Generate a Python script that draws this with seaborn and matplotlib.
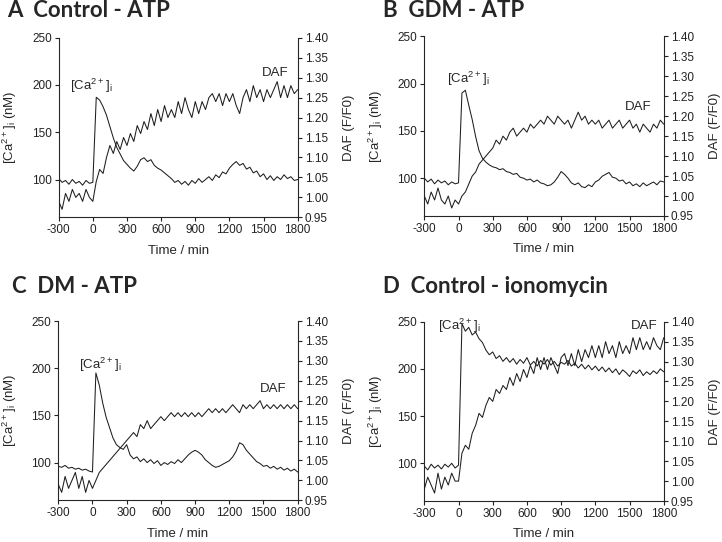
import numpy as np
import pandas as pd
import matplotlib.pyplot as plt
import seaborn as sns

# ---- data: time points (min) ----
time = list(range(-300, 1801, 30))

# A  Control - ATP
ca_A = [101, 97, 99, 95, 100, 96, 98, 94, 99, 96, 97,
        187, 184, 177, 168, 156, 144, 134, 127, 120, 116,
        112, 109, 114, 121, 123, 119, 121, 115, 112, 110,
        107, 104, 101, 97, 99, 95, 98, 94, 99, 96,
        101, 97, 100, 103, 99, 105, 102, 108, 106, 112,
        116, 119, 115, 117, 111, 113, 107, 109, 103, 106,
        100, 104, 99, 103, 100, 105, 101, 103, 99, 100]
daf_A = [0.99, 0.97, 1.01, 0.99, 1.02, 1.00, 1.01, 0.99, 1.02, 1.00, 0.99,
         1.04, 1.07, 1.06, 1.10, 1.13, 1.11, 1.14, 1.12, 1.15, 1.13,
         1.16, 1.14, 1.18, 1.16, 1.19, 1.17, 1.21, 1.18, 1.22, 1.19,
         1.23, 1.20, 1.22, 1.20, 1.24, 1.21, 1.25, 1.22, 1.20, 1.24,
         1.21, 1.24, 1.22, 1.25, 1.26, 1.24, 1.26, 1.23, 1.26, 1.24,
         1.26, 1.23, 1.21, 1.25, 1.27, 1.24, 1.28, 1.25, 1.27, 1.24,
         1.27, 1.25, 1.27, 1.29, 1.25, 1.28, 1.25, 1.28, 1.26, 1.27]

# B  GDM - ATP
ca_B = [100, 96, 99, 94, 98, 95, 97, 93, 96, 94, 95,
        190, 193, 177, 162, 144, 129, 121, 117, 114, 112,
        111, 109, 110, 107, 106, 104, 105, 101, 100, 98,
        99, 96, 98, 95, 94, 92, 93, 96, 101, 107,
        104, 100, 95, 93, 95, 91, 90, 93, 91, 96,
        98, 102, 104, 106, 101, 100, 97, 98, 94, 96,
        92, 94, 91, 95, 92, 94, 96, 93, 97, 96]
daf_B = [1.00, 0.98, 1.01, 0.99, 1.02, 0.99, 0.98, 1.00, 0.97, 0.99, 0.98,
         1.00, 1.01, 1.03, 1.05, 1.06, 1.08, 1.09, 1.10, 1.11, 1.12,
         1.14, 1.13, 1.15, 1.14, 1.16, 1.17, 1.15, 1.16, 1.17, 1.16,
         1.18, 1.17, 1.18, 1.19, 1.18, 1.20, 1.19, 1.18, 1.20, 1.19,
         1.18, 1.19, 1.17, 1.19, 1.21, 1.19, 1.20, 1.18, 1.19, 1.18,
         1.19, 1.17, 1.18, 1.19, 1.17, 1.18, 1.19, 1.17, 1.18, 1.19,
         1.17, 1.18, 1.16, 1.18, 1.17, 1.16, 1.18, 1.17, 1.19, 1.18]

# C  DM - ATP
ca_C = [96, 95, 97, 94, 95, 93, 94, 92, 93, 91, 90,
        195, 182, 163, 148, 137, 126, 119, 116, 114, 119,
        108, 104, 106, 101, 104, 100, 103, 99, 102, 97,
        100, 98, 101, 99, 103, 100, 104, 108, 111, 113,
        111, 108, 103, 100, 97, 95, 96, 98, 100, 102,
        106, 112, 121, 119, 113, 109, 105, 101, 99, 96,
        97, 94, 96, 93, 95, 92, 94, 91, 93, 90]
daf_C = [0.99, 0.97, 1.01, 0.98, 1.00, 1.02, 0.98, 1.01, 0.97, 1.00, 0.98,
         1.00, 1.02, 1.03, 1.04, 1.05, 1.06, 1.07, 1.08, 1.09, 1.10,
         1.11, 1.12, 1.11, 1.14, 1.13, 1.15, 1.13, 1.14, 1.15, 1.16,
         1.15, 1.16, 1.17, 1.16, 1.17, 1.16, 1.17, 1.16, 1.17, 1.16,
         1.17, 1.16, 1.17, 1.18, 1.17, 1.18, 1.17, 1.18, 1.17, 1.18,
         1.19, 1.18, 1.17, 1.19, 1.18, 1.19, 1.18, 1.19, 1.20, 1.18,
         1.19, 1.18, 1.19, 1.18, 1.19, 1.18, 1.19, 1.18, 1.19, 1.18]

# D  Control - ionomycin
ca_D = [97, 93, 99, 95, 98, 94, 99, 96, 100, 95, 98,
        248, 240, 244, 236, 239, 232, 228, 220, 215, 218,
        211, 214, 208, 212, 207, 211, 205, 210, 206, 212,
        204, 208, 203, 209, 205, 210, 204, 208, 203, 207,
        205, 209, 203, 206, 201, 205, 200, 204, 199, 203,
        198, 202, 197, 201, 196, 200, 194, 199, 196, 192,
        198, 195, 199, 193, 197, 194, 198, 195, 200, 197]
daf_D = [0.98, 1.01, 0.99, 0.97, 1.02, 0.98, 1.01, 0.99, 1.02, 1.00, 1.00,
         1.07, 1.09, 1.08, 1.12, 1.14, 1.17, 1.16, 1.19, 1.21, 1.20,
         1.23, 1.22, 1.24, 1.23, 1.26, 1.24, 1.27, 1.25, 1.28, 1.26,
         1.29, 1.27, 1.31, 1.28, 1.31, 1.28, 1.31, 1.29, 1.27, 1.31,
         1.32, 1.29, 1.32, 1.29, 1.33, 1.30, 1.33, 1.31, 1.34, 1.31,
         1.34, 1.31, 1.35, 1.32, 1.34, 1.31, 1.35, 1.32, 1.34, 1.32,
         1.36, 1.33, 1.36, 1.33, 1.35, 1.33, 1.36, 1.34, 1.33, 1.36]

titles = ["A  Control - ATP", "B  GDM - ATP", "C  DM - ATP", "D  Control - ionomycin"]
ca_all = [ca_A, ca_B, ca_C, ca_D]
daf_all = [daf_A, daf_B, daf_C, daf_D]
# label positions (time, nM) for the [Ca2+]i and DAF annotations
ca_lab = [(-10, 199), (86, 205), (66, 204), (7, 246)]
daf_lab = [(1600, 213), (1577, 175), (1581, 178), (1627, 246)]

# ---- style ----
sns.set_style("ticks")
plt.rcParams['font.family'] = ['Liberation Sans', 'DejaVu Sans']
plt.rcParams['mathtext.default'] = 'regular'
plt.rcParams['axes.unicode_minus'] = False
plt.rcParams['xtick.major.size'] = 3
plt.rcParams['ytick.major.size'] = 3
plt.rcParams['xtick.major.width'] = 0.8
plt.rcParams['ytick.major.width'] = 0.8

fig = plt.figure(figsize=(7.22, 5.42), dpi=100)

# axes boxes [left, bottom, width, height] in figure fractions
boxes = [[0.0813, 0.599, 0.331, 0.3314],
         [0.5877, 0.6015, 0.3316, 0.3315],
         [0.0807, 0.0769, 0.3316, 0.3308],
         [0.5877, 0.0756, 0.3316, 0.3308]]
title_pos = [(0.0097, 0.9686), (0.5305, 0.9686), (0.0166, 0.4594), (0.5305, 0.4594)]

line_col = "#1e1e1e"
ca_text = "[Ca$^{2+}$]$_{i}$"

for i in range(4):
    df = pd.DataFrame({"time": time, "ca": ca_all[i], "daf": daf_all[i]})
    ax = fig.add_axes(boxes[i])
    ax2 = ax.twinx()

    sns.lineplot(data=df, x="time", y="ca", ax=ax, color=line_col, lw=0.75)
    sns.lineplot(data=df, x="time", y="daf", ax=ax2, color=line_col, lw=0.75)

    ax.set_xlim(-300, 1800)
    ax.set_ylim(60, 250)
    ax2.set_ylim(0.95, 1.40)
    ax.set_xticks(range(-300, 1801, 300))
    ax.set_yticks([100, 150, 200, 250])
    ax2.set_yticks(np.arange(0.95, 1.401, 0.05))
    ax2.set_yticklabels([f"{v:.2f}" for v in np.arange(0.95, 1.401, 0.05)])

    for a in (ax, ax2):
        a.spines["top"].set_visible(False)
        for s in ("left", "right", "bottom"):
            a.spines[s].set_linewidth(0.8)
        a.tick_params(labelsize=8.5, pad=2, colors="#222222")
    ax.spines["right"].set_visible(False)
    ax2.spines["left"].set_visible(False)
    ax2.spines["bottom"].set_visible(False)
    ax2.spines["right"].set_visible(True)

    ax.set_xlabel("Time / min", fontsize=9.5, labelpad=6)
    ax.set_ylabel(ca_text + " (nM)", fontsize=9.5, labelpad=9)
    ax2.set_ylabel("DAF (F/F0)", fontsize=9.5, labelpad=11)

    ax.text(ca_lab[i][0], ca_lab[i][1], ca_text,
            fontsize=9.5, ha="center", va="center", clip_on=False)
    ax.text(daf_lab[i][0], daf_lab[i][1], "DAF", fontsize=9.5,
            ha="center", va="center", clip_on=False)

    fig.text(title_pos[i][0], title_pos[i][1], titles[i], fontsize=16,
             fontweight="bold", family=["Lato", "DejaVu Sans"], va="baseline")

plt.savefig("out.png", dpi=100)
